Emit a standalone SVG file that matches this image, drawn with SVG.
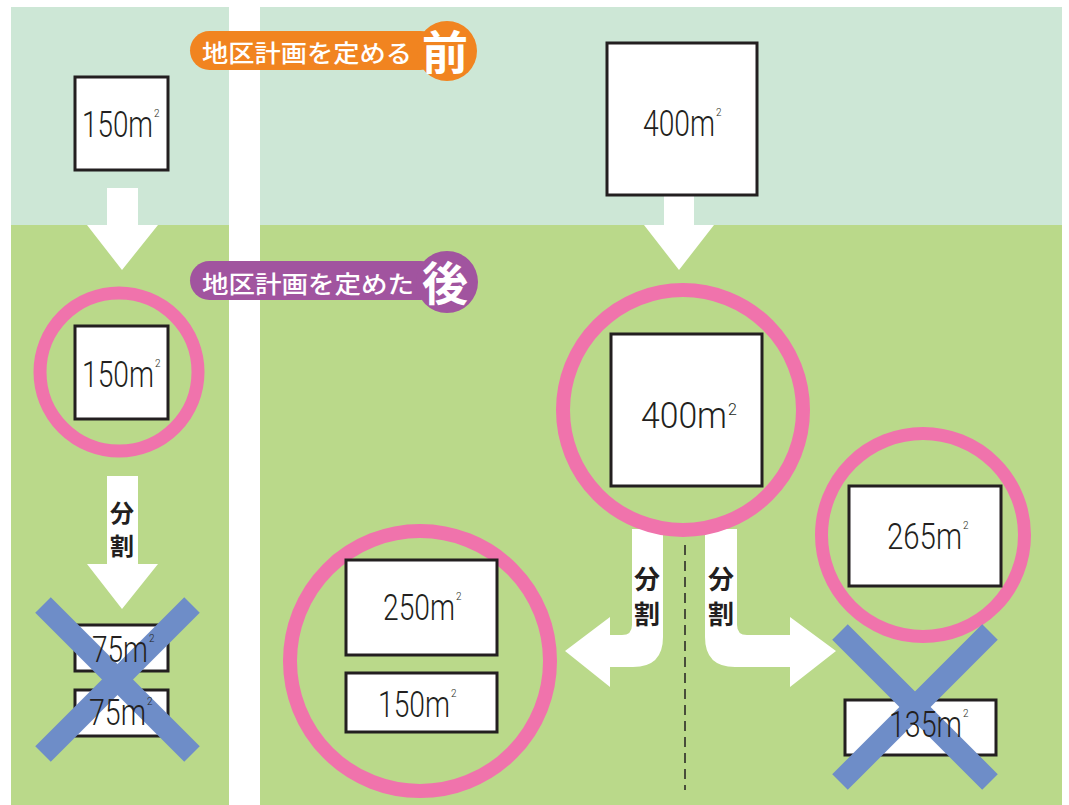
<svg xmlns="http://www.w3.org/2000/svg" width="1069" height="805" viewBox="0 0 1069 805">
<style>
.bgt{fill:#CDE7D6}
.bgb{fill:#BAD98A}
.box{fill:#FFFFFF;stroke:#231F20;stroke-width:3}
.num{font-family:Roboto,"Liberation Sans",Arial,sans-serif;font-weight:300;font-size:37px;fill:#231F20}
.sup{font-size:10px}
.sup2{font-size:16px}
.ring{fill:none;stroke:#F073AC}
.cross{stroke:#6E8DC8;stroke-width:22;stroke-linecap:butt}
.arrow{fill:#FFFFFF}
.jp{font-family:"Noto Sans CJK JP","Noto Sans CJK SC",sans-serif;font-weight:700;fill:#231F20;text-anchor:middle}
.pill{font-family:"Noto Sans CJK JP","Noto Sans CJK SC",sans-serif;font-weight:500;fill:#FFFFFF}
.big{font-family:"Noto Sans CJK JP","Noto Sans CJK SC",sans-serif;font-weight:700;fill:#FFFFFF;text-anchor:middle}
</style>
<rect width="1069" height="805" fill="#FFFFFF"/>
<g id="background">
<rect class="bgt" x="11" y="7" width="218" height="218"/>
<rect class="bgb" x="11" y="225" width="218" height="580"/>
<rect class="bgt" x="260" y="7" width="802" height="218"/>
<rect class="bgb" x="260" y="225" width="802" height="580"/>
</g>
<g id="connectors">
<polygon class="arrow" points="107,188 138,188 138,225 158,225 122,270 87,225 107,225"/>
<polygon class="arrow" points="107,476 138,476 138,564 158,564 122,609 87,564 107,564"/>
<polygon class="arrow" points="664,196 694,196 694,225 714,225 679,270 644,225 664,225"/>
<path class="arrow" d="M632,529 L663,529 L663,637 Q663,667 633,667 L610,667 L610,687 L565,651 L610,617 L610,635 L622,635 Q632,635 632,625 Z"/>
<path class="arrow" d="M705,529 L737,529 L737,625 Q737,635 747,635 L790,635 L790,617 L836,651 L790,687 L790,667 L735,667 Q705,667 705,637 Z"/>
<line x1="685" y1="545" x2="685" y2="790" stroke="#231F20" stroke-width="1.5" stroke-dasharray="10 6"/>
<text class="jp" x="122" y="522" font-size="24">分</text>
<text class="jp" x="122" y="555" font-size="24">割</text>
<text class="jp" x="647" y="589" font-size="26">分</text>
<text class="jp" x="647" y="624" font-size="26">割</text>
<text class="jp" x="721" y="589" font-size="26">分</text>
<text class="jp" x="721" y="624" font-size="26">割</text>
</g>
<g id="label-before">
<rect x="190" y="31" width="250" height="39" rx="19.5" fill="#F18420"/>
<circle cx="447" cy="51" r="30" fill="#F18420"/>
<text class="pill" x="202" y="62" font-size="24" textLength="210" lengthAdjust="spacingAndGlyphs">地区計画を定める</text>
<text class="big" x="445" y="69" font-size="46">前</text>
</g>
<g id="label-after">
<rect x="190" y="261" width="250" height="39" rx="19.5" fill="#A1549F"/>
<circle cx="447" cy="282" r="31" fill="#A1549F"/>
<text class="pill" x="202" y="293" font-size="24" textLength="212" lengthAdjust="spacingAndGlyphs">地区計画を定めた</text>
<text class="big" x="445" y="300" font-size="46">後</text>
</g>
<g id="left-before-150">
<rect class="box" x="75" y="77" width="93" height="93"/>
<text class="num" x="82" y="137"><tspan textLength="71" lengthAdjust="spacingAndGlyphs">150m</tspan><tspan class="sup" x="154" y="117">2</tspan></text>
</g>
<g id="left-after-150">
<circle class="ring" cx="119" cy="372" r="79" stroke-width="13"/>
<rect class="box" x="75" y="326" width="93" height="93"/>
<text class="num" x="82" y="387"><tspan textLength="72" lengthAdjust="spacingAndGlyphs">150m</tspan><tspan class="sup" x="155" y="367">2</tspan></text>
</g>
<g id="left-split-75a">
<rect class="box" x="75" y="625" width="93" height="46"/>
</g>
<g id="left-split-75b">
<rect class="box" x="75" y="690" width="93" height="46"/>
</g>
<g id="left-cross">
<line class="cross" x1="43" y1="605" x2="192" y2="754"/>
<line class="cross" x1="192" y1="605" x2="43" y2="754"/>
</g>
<g id="left-split-75-labels">
<text class="num" x="92" y="662"><tspan textLength="56" lengthAdjust="spacingAndGlyphs">75m</tspan><tspan class="sup" x="149" y="642">2</tspan></text>
<text class="num" x="89" y="725"><tspan textLength="57" lengthAdjust="spacingAndGlyphs">75m</tspan><tspan class="sup" x="147" y="705">2</tspan></text>
</g>
<g id="right-before-400">
<rect class="box" x="607" y="43" width="150" height="152"/>
<text class="num" x="643" y="136"><tspan textLength="72" lengthAdjust="spacingAndGlyphs">400m</tspan><tspan class="sup" x="716" y="116">2</tspan></text>
</g>
<g id="right-after-400">
<circle class="ring" cx="683" cy="410" r="120" stroke-width="14"/>
<rect class="box" x="611" y="334" width="151" height="152"/>
<text class="num" x="641" y="428"><tspan textLength="86" lengthAdjust="spacingAndGlyphs">400m</tspan><tspan class="sup2" x="728" y="415">2</tspan></text>
</g>
<g id="right-split-keep">
<circle class="ring" cx="420" cy="661" r="130" stroke-width="14"/>
<rect class="box" x="346" y="560" width="151" height="95"/>
<text class="num" x="383" y="620"><tspan textLength="72" lengthAdjust="spacingAndGlyphs">250m</tspan><tspan class="sup" x="456" y="600">2</tspan></text>
<rect class="box" x="346" y="673" width="151" height="59"/>
<text class="num" x="378" y="717"><tspan textLength="72" lengthAdjust="spacingAndGlyphs">150m</tspan><tspan class="sup" x="451" y="697">2</tspan></text>
</g>
<g id="right-split-265">
<circle class="ring" cx="923" cy="535" r="101.5" stroke-width="13"/>
<rect class="box" x="849" y="486" width="152" height="100"/>
<text class="num" x="887" y="549"><tspan textLength="75" lengthAdjust="spacingAndGlyphs">265m</tspan><tspan class="sup" x="963" y="529">2</tspan></text>
</g>
<g id="right-split-135">
<rect class="box" x="845" y="700" width="151" height="55"/>
</g>
<g id="right-cross">
<line class="cross" x1="840" y1="632" x2="990" y2="782"/>
<line class="cross" x1="990" y1="632" x2="840" y2="782"/>
</g>
<g id="right-split-135-label">
<text class="num" x="889" y="737"><tspan textLength="73" lengthAdjust="spacingAndGlyphs">135m</tspan><tspan class="sup" x="963" y="717">2</tspan></text>
</g>
</svg>
